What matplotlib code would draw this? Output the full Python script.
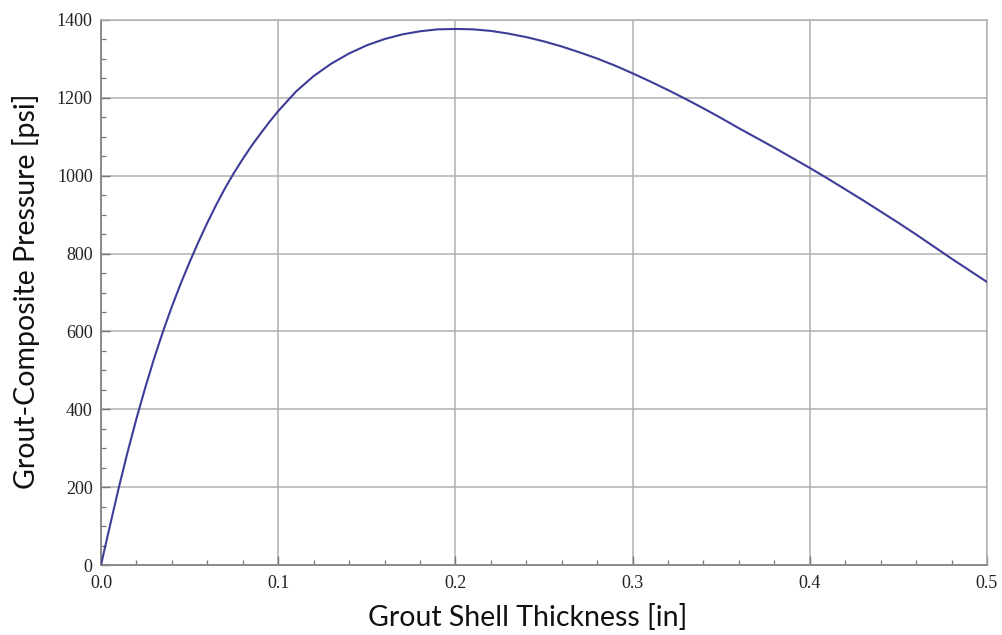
import numpy as np
import matplotlib
matplotlib.use("Agg")
from matplotlib import pyplot as plt
from matplotlib.ticker import MultipleLocator

# values
thickness = [0, 0.005, 0.01, 0.015, 0.02, 0.025, 0.03, 0.035, 0.04, 0.045,
             0.05, 0.055, 0.06, 0.065, 0.07, 0.075, 0.08, 0.085, 0.09, 0.095,
             0.1, 0.11, 0.12, 0.13, 0.14, 0.15, 0.16, 0.17, 0.18, 0.19,
             0.2, 0.21, 0.22, 0.23, 0.24, 0.25, 0.26, 0.27, 0.28, 0.29,
             0.3, 0.31, 0.32, 0.33, 0.34, 0.35, 0.36, 0.37, 0.38, 0.39,
             0.4, 0.41, 0.42, 0.43, 0.44, 0.45, 0.46, 0.47, 0.48, 0.49, 0.5]
pressure = [0, 100, 198, 290, 376, 456, 531, 600, 664, 723,
            778, 830, 879, 925, 968, 1007, 1043, 1077, 1108, 1138,
            1166, 1216, 1256, 1288, 1314, 1335, 1351, 1363, 1371, 1376,
            1377, 1376, 1372, 1365, 1356, 1345, 1332, 1317, 1301, 1283,
            1263, 1242, 1220, 1197, 1173, 1148, 1122, 1097, 1072, 1046,
            1020, 993, 965, 937, 908, 879, 849, 818, 787, 757, 727]

x_ticks = [0.0, 0.1, 0.2, 0.3, 0.4, 0.5]
x_tick_labels = ["0.0", "0.1", "0.2", "0.3", "0.4", "0.5"]
y_ticks = [0, 200, 400, 600, 800, 1000, 1200, 1400]

fig = plt.figure(figsize = (10.03, 6.35), dpi = 100)
ax = fig.add_axes([101/1003, 70/635, 886/1003, 545/635])

ax.plot(thickness, pressure, '-', color = "#3d3d99", linewidth = 1.5, zorder = 3)

ax.set_xlim(0, 0.5)
ax.set_ylim(0, 1400)
ax.set_xticks(x_ticks)
ax.set_xticklabels(x_tick_labels)
ax.set_yticks(y_ticks)
ax.xaxis.set_minor_locator(MultipleLocator(0.02))
ax.yaxis.set_minor_locator(MultipleLocator(50))

ax.grid(True, which = "major", color = "#b0b0b0", linewidth = 1.1)
ax.set_axisbelow(True)

for side in ["top", "right"]:
    ax.spines[side].set_color("#b0b0b0")
    ax.spines[side].set_linewidth(1.1)
for side in ["left", "bottom"]:
    ax.spines[side].set_color("#8a8a8a")
    ax.spines[side].set_linewidth(1.4)

ax.tick_params(which = "both", direction = "in", top = False, right = False, color = "#777777")
ax.tick_params(which = "major", length = 6.5, width = 1.0,
               labelsize = 13, labelcolor = "#222222")
ax.tick_params(axis = "x", which = "major", pad = 7)
ax.tick_params(axis = "y", which = "major", pad = 6)
ax.tick_params(which = "minor", length = 3.5, width = 0.9)
for lbl in ax.get_xticklabels() + ax.get_yticklabels():
    lbl.set_family("Liberation Serif")

fig.text(528/1003, 1 - 617/635, "Grout Shell Thickness [in]", ha = "center", va = "center",
         fontsize = 20.5, family = "Lato", color = "#111111")
fig.text(26/1003, 1 - 291/635, "Grout-Composite Pressure [psi]", ha = "center", va = "center",
         rotation = 90, fontsize = 20.5, family = "Lato", color = "#111111")

fig.savefig("out.png", dpi = 100, facecolor = "white")
